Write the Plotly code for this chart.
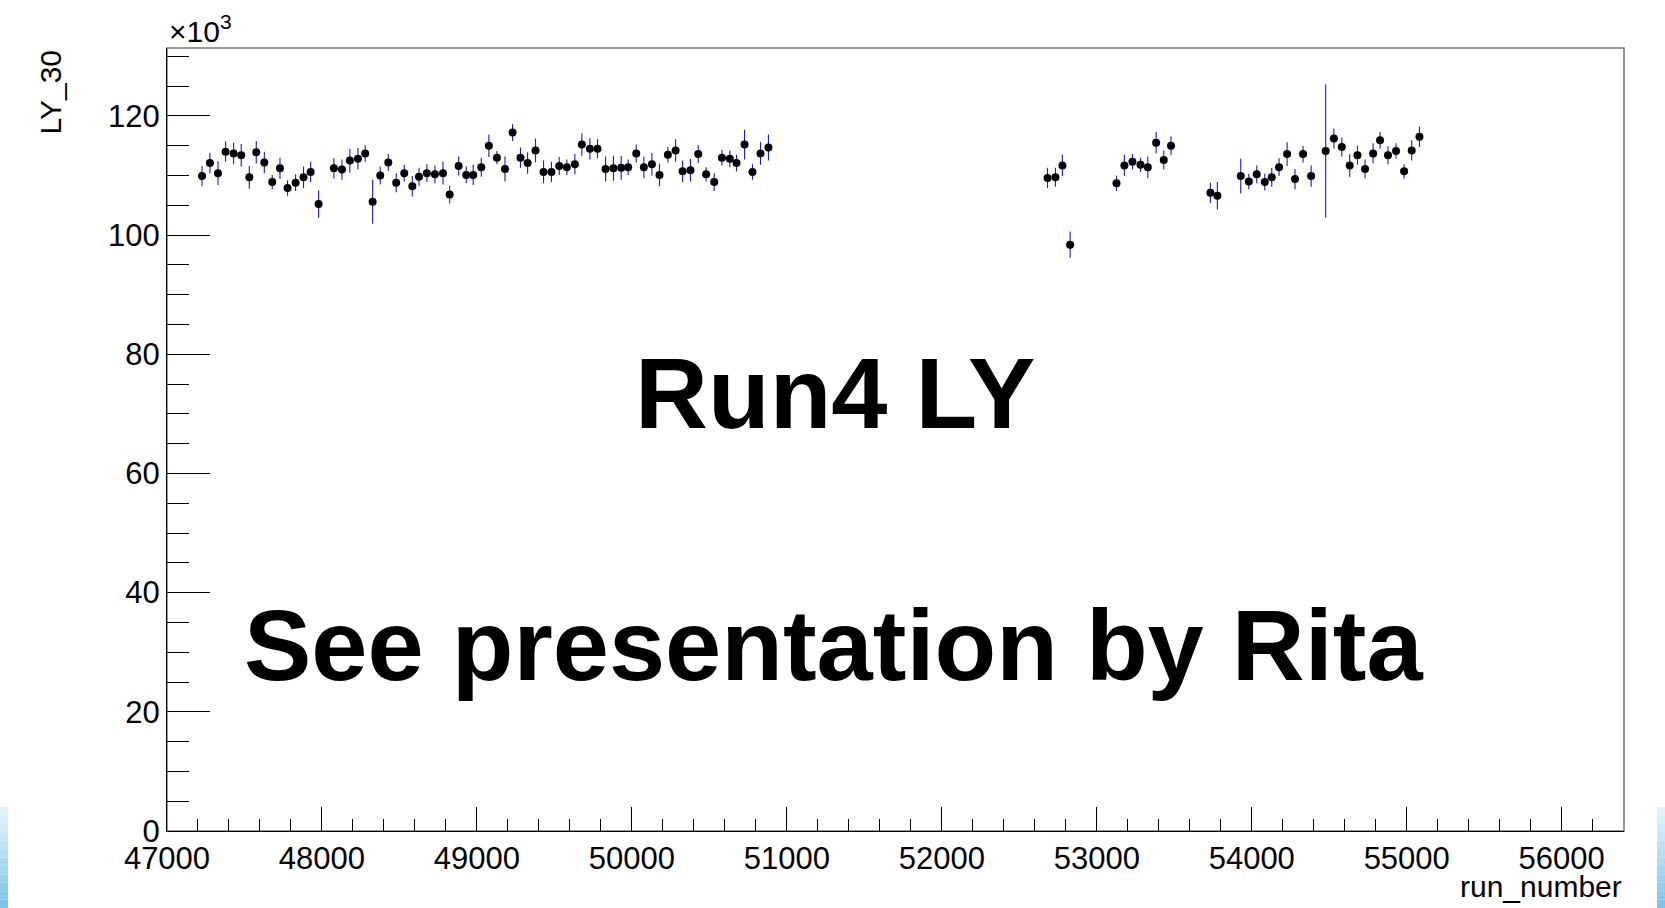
import plotly.graph_objects as go

# ---------------- data (LY_30 in units of 10^3) ----------------
run_number = [
    47226, 47277, 47329, 47378, 47430, 47479, 47531, 47576, 47628, 47679,
    47729, 47778, 47830, 47881, 47927, 47978, 48077, 48129, 48180, 48232,
    48279, 48327, 48376, 48428, 48479, 48531, 48583, 48626, 48677, 48729,
    48781, 48824, 48882, 48931, 48976, 49028, 49077, 49129, 49181, 49230,
    49281, 49327, 49378, 49430, 49481, 49531, 49580, 49632, 49677, 49729,
    49778, 49830, 49881, 49931, 49976, 50028, 50077, 50129, 50178, 50232,
    50282, 50327, 50378, 50428, 50479, 50531, 50581, 50632, 50675, 50727,
    50778, 50830, 50881,
    52682, 52733, 52778, 52828,
    53127, 53178, 53230, 53282, 53329, 53383, 53432, 53479,
    53733, 53778,
    53929, 53981, 54032, 54084, 54129, 54176, 54228, 54279, 54331, 54383,
    54477,
    54530, 54581, 54632, 54682, 54731, 54783, 54828, 54879, 54931, 54983,
    55032, 55082,
]
ly_30 = [
    109.9, 112.1, 110.4, 114.0, 113.7, 113.4, 109.7, 113.9, 112.2, 108.9,
    111.2, 107.9, 108.8, 109.7, 110.6, 105.2, 111.2, 111.0, 112.5, 112.8,
    113.7, 105.6, 110.0, 112.2, 108.8, 110.4, 108.2, 109.8, 110.4, 110.2,
    110.4, 106.8, 111.6, 110.1, 110.1, 111.4, 115.0, 113.0, 111.1, 117.2,
    113.0, 112.1, 114.2, 110.6, 110.6, 111.6, 111.4, 111.9, 115.2, 114.5,
    114.5, 111.1, 111.2, 111.3, 111.4, 113.7, 111.4, 111.9, 110.1, 113.5,
    114.2, 110.7, 110.9, 113.6, 110.2, 108.9, 113.0, 112.8, 112.1, 115.2,
    110.6, 113.7, 114.7,
    109.6, 109.7, 111.7, 98.4,
    108.7, 111.7, 112.3, 111.8, 111.4, 115.5, 112.6, 115.0,
    107.1, 106.6,
    109.9, 109.0, 110.2, 108.9, 109.7, 111.4, 113.6, 109.4, 113.6, 109.9,
    114.1,
    116.2, 114.8, 111.7, 113.4, 111.1, 113.7, 115.9, 113.4, 114.1, 110.7,
    114.2, 116.5,
]
ly_30_err = [
    1.7, 1.7, 2.0, 1.7, 1.8, 1.9, 1.9, 1.9, 1.8, 1.2,
    1.8, 1.3, 1.4, 1.8, 1.7, 2.3, 1.7, 1.7, 2.0, 1.8,
    1.4, 3.7, 1.5, 1.4, 1.6, 1.4, 1.7, 1.5, 1.5, 1.5,
    1.9, 1.5, 1.6, 1.4, 1.7, 1.6, 1.9, 1.1, 2.1, 1.4,
    1.7, 1.8, 2.0, 1.9, 1.7, 1.5, 1.3, 1.7, 1.9, 1.8,
    1.6, 2.1, 2.1, 2.0, 1.3, 1.5, 1.8, 1.9, 1.9, 1.3,
    1.9, 1.8, 1.9, 1.5, 1.2, 1.5, 1.3, 1.4, 1.4, 2.5,
    1.3, 1.9, 2.2,
    1.7, 1.6, 1.8, 2.2,
    1.3, 1.8, 1.3, 1.2, 1.8, 1.8, 1.6, 1.6,
    1.7, 2.3,
    2.9, 1.3, 1.5, 1.4, 1.6, 1.5, 2.0, 1.7, 1.4, 1.8,
    11.2,
    1.7, 1.6, 1.9, 1.6, 1.6, 1.7, 1.4, 1.5, 1.3, 1.2,
    1.7, 1.7,
]

x_range = [47000, 56402]
y_range = [0, 131.4]

# ---------------- layout geometry (pixels) ----------------
W, H = 1665, 908
L, R, T, B = 167, 41, 48, 77
PW, PH = W - L - R, H - T - B
FONT = "Liberation Sans, Arial, Helvetica, sans-serif"


def px(xp):
    return (xp - L) / PW


def py(yp):
    return (H - B - yp) / PH


fig = go.Figure()
fig.add_trace(go.Scatter(
    x=run_number, y=ly_30, mode="markers",
    marker=dict(color="black", size=8, symbol="circle"),
    error_y=dict(type="data", array=ly_30_err, color="rgb(25,25,210)",
                 thickness=1.1, width=0),
    showlegend=False, hoverinfo="x+y",
))

axis_common = dict(
    showgrid=False, zeroline=False, showline=True, linecolor="black",
    linewidth=1, ticks="inside", tickcolor="black", tickwidth=1,
    tickfont=dict(family=FONT, size=31, color="black"),
)

fig.update_layout(
    width=W, height=H,
    margin=dict(l=L, r=R, t=T, b=B, pad=0),
    paper_bgcolor="white", plot_bgcolor="white",
    font=dict(family=FONT, color="black"),
    xaxis=dict(range=x_range, tick0=47000, dtick=1000, ticklen=24,
               tickformat="d",
               minor=dict(dtick=200, ticklen=12, ticks="inside",
                          tickcolor="black", tickwidth=1, showgrid=False),
               **axis_common),
    yaxis=dict(range=y_range, tick0=0, dtick=20, ticklen=43,
               minor=dict(dtick=5, ticklen=22, ticks="inside",
                          tickcolor="black", tickwidth=1, showgrid=False),
               **axis_common),
)

# frame (grey top/right), drawn under axis lines
fig.add_shape(type="rect", xref="paper", yref="paper", x0=0, x1=1, y0=0, y1=1,
              line=dict(color="rgb(120,120,120)", width=1.5), layer="below")

# light-blue gradient strips at the lower page edges
n_steps = 12
c_top = (232, 244, 251)
c_bot = (124, 195, 230)
y_top_px, y_bot_px = 807, 908
for side_x0, side_x1 in [(0, 8), (1657, 1665)]:
    for i in range(n_steps):
        f = (i + 0.5) / n_steps
        col = tuple(int(round(c_top[k] + (c_bot[k] - c_top[k]) * f)) for k in range(3))
        y0p = y_top_px + (y_bot_px - y_top_px) * i / n_steps
        y1p = y_top_px + (y_bot_px - y_top_px) * (i + 1) / n_steps
        fig.add_shape(type="rect", xref="paper", yref="paper",
                      x0=px(side_x0), x1=px(side_x1), y0=py(y1p), y1=py(y0p),
                      line=dict(width=0), fillcolor="rgb(%d,%d,%d)" % col,
                      layer="below")

annotations = [
    dict(text="×10<sup>3</sup>", x=0, y=1, xanchor="left", yanchor="bottom",
         font=dict(size=30), yshift=-2),
    dict(text="LY_30", textangle=-90, x=px(50), y=1, xanchor="center",
         yanchor="top", font=dict(size=30)),
    dict(text="run_number", x=1, y=py(905), xanchor="right", yanchor="bottom",
         xshift=0, font=dict(size=30)),
    dict(text="Run4 LY", x=px(834.5), y=py(392.7), xanchor="center",
         yanchor="middle", font=dict(size=101, weight="bold")),
    dict(text="See presentation by Rita", x=px(833.5), y=py(644.7),
         xanchor="center", yanchor="middle", font=dict(size=101, weight="bold")),
]
for a in annotations:
    fig.add_annotation(xref="paper", yref="paper", showarrow=False, **a)

fig.write_html("out.html")
